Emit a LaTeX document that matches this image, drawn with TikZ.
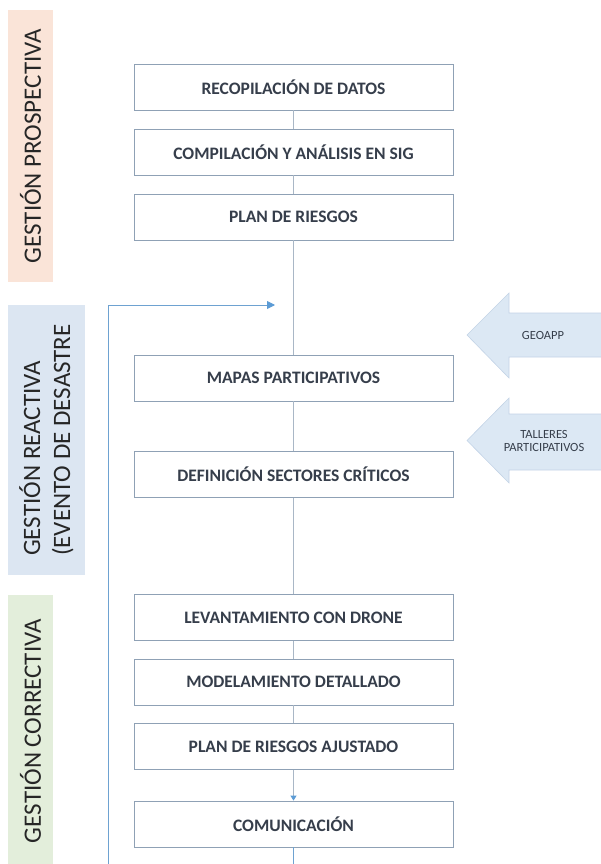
\documentclass[tikz,border=0pt]{standalone}
\usepackage{fontspec}
\setmainfont{Carlito}
\usetikzlibrary{arrows.meta}
\definecolor{boxline}{HTML}{8FA1B5}
\definecolor{flowline}{HTML}{A9B7C6}
\definecolor{txt}{HTML}{363E4B}
\definecolor{loopblue}{HTML}{5B9BD5}
\definecolor{peach}{HTML}{FAE4D8}
\definecolor{lblue}{HTML}{DCE6F2}
\definecolor{lgreen}{HTML}{E3EEDB}
\definecolor{arrfill}{HTML}{DCE8F4}
\definecolor{arrline}{HTML}{C3D3E6}
\begin{document}
\begin{tikzpicture}[x=1pt,y=-1pt,
  stepbox/.style={draw=boxline, line width=0.8pt, fill=white, minimum width=319pt, minimum height=46pt,
    inner sep=0pt, font=\fontsize{17.5}{20}\selectfont\bfseries, text=txt},
  band/.style={rotate=90, inner sep=0pt, font=\fontsize{25}{30}\selectfont, text=black!85},
  flow/.style={draw=flowline, line width=0.9pt},
  bigarrow/.style={fill=arrfill, draw=arrline, line width=0.6pt},
  arrtext/.style={font=\fontsize{12.5}{13}\selectfont, text=txt, align=center, inner sep=0pt}]
\useasboundingbox (0,0) rectangle (601,864);
\clip (0,0) rectangle (601,864);

% left bands
\node[band, fill=peach, minimum width=272pt, minimum height=45pt] (bp) at (30.5,146) {GESTIÓN PROSPECTIVA};
\node[band, fill=lblue, minimum width=270pt, minimum height=77pt, align=left] (br) at (46.5,440) {GESTIÓN REACTIVA\\(EVENTO DE DESASTRE};
\node[band, fill=lgreen, minimum width=272pt, minimum height=45pt] (bc) at (30.5,731) {GESTIÓN CORRECTIVA};

% boxes
\node[stepbox] (b1) at (293.5,87) {RECOPILACIÓN DE DATOS};
\node[stepbox] (b2) at (293.5,152) {COMPILACIÓN Y ANÁLISIS EN SIG};
\node[stepbox] (b3) at (293.5,217) {PLAN DE RIESGOS};
\node[stepbox] (b4) at (293.5,378) {MAPAS PARTICIPATIVOS};
\node[stepbox] (b5) at (293.5,474.5) {DEFINICIÓN SECTORES CRÍTICOS};
\node[stepbox] (b6) at (293.5,617.5) {LEVANTAMIENTO CON DRONE};
\node[stepbox] (b7) at (293.5,682) {MODELAMIENTO DETALLADO};
\node[stepbox] (b8) at (293.5,746.5) {PLAN DE RIESGOS AJUSTADO};
\node[stepbox] (b9) at (293.5,824) {COMUNICACIÓN};

% flow lines
\draw[flow] (b1) -- (b2);
\draw[flow] (b2) -- (b3);
\draw[flow] (b3) -- (b4);
\draw[flow] (b4) -- (b5);
\draw[flow] (b5) -- (b6);
\draw[flow] (b6) -- (b7);
\draw[flow] (b7) -- (b8);
\draw[flow, -{Triangle[length=5pt,width=6pt,color=loopblue]}] (b8) -- (b9);

% loop back
\coordinate (lp) at (275,305);
\draw[draw=loopblue!75!flowline, line width=0.9pt, -{Triangle[length=8pt,width=8pt,color=loopblue]}]
  (b9.south) -- ++(0,40) -| (108,305) -- (lp);

% right arrows
\draw[bigarrow] (605,313) -- (509,313) -- (509,293) -- (467,335) -- (509,378) -- (509,357) -- (605,357);
\node[arrtext] (geo) at (543,335) {GEOAPP};
\draw[bigarrow] (605,414) -- (509,414) -- (509,398) -- (467,440.5) -- (509,483) -- (509,470) -- (605,470);
\node[arrtext] (tal) at (544,441) {TALLERES\\PARTICIPATIVOS};
\end{tikzpicture}
\end{document}
